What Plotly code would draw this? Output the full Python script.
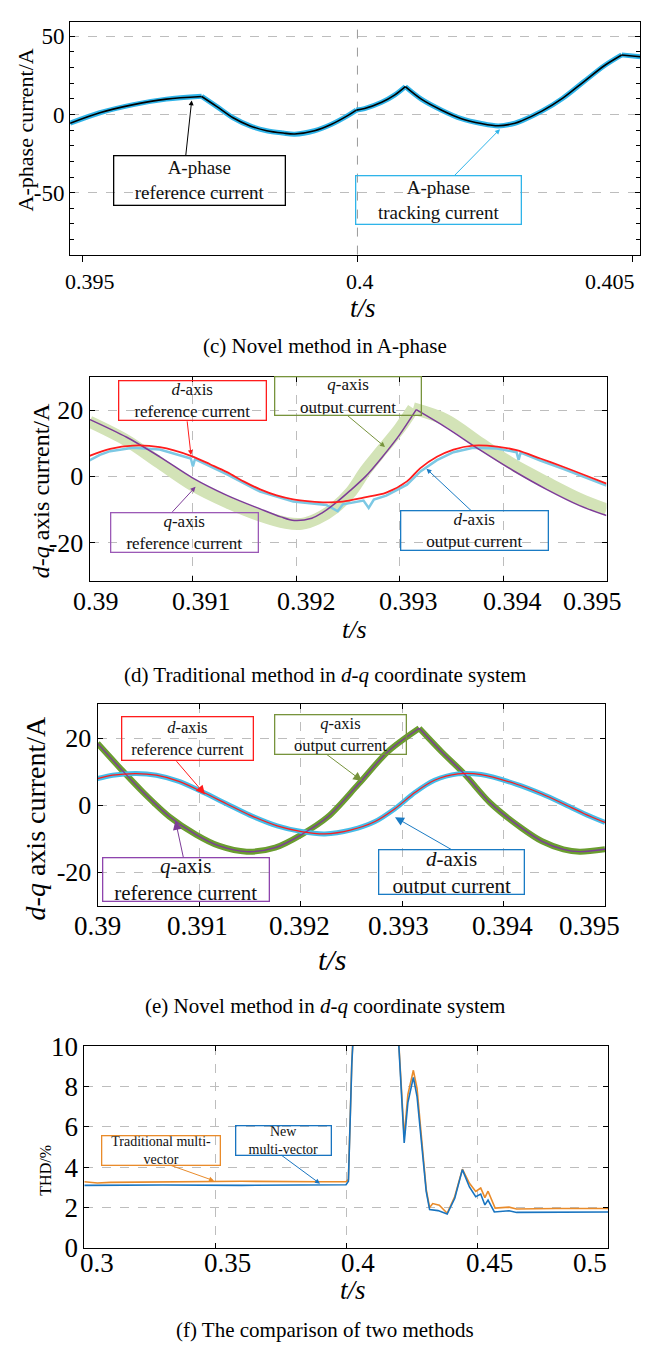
import plotly.graph_objects as go

W, H = 654, 1362
FONT = "Liberation Serif, Times New Roman, serif"

# ---------------- (c) Novel method in A-phase ----------------
c_t = [0.39478, 0.39532, 0.39593, 0.39653, 0.39717, 0.39744, 0.39774, 0.39805,
       0.39835, 0.39865, 0.39886, 0.39922, 0.39953, 0.39983, 0.39998, 0.40013,
       0.40044, 0.40068, 0.40087, 0.40116, 0.40153, 0.40189, 0.40225, 0.40256,
       0.40286, 0.40298, 0.40335, 0.40373, 0.40411, 0.40449, 0.40480, 0.40514]
c_ref = [-5.6, 1.1, 6.3, 9.8, 11.5, 5.2, -2.1, -7.3,
         -10.4, -11.9, -12.5, -10.4, -6.25, -0.6, 2.75, 3.75,
         7.75, 12.5, 17.75, 9.8, 2.75, -2.7, -5.8, -7.25,
         -5.6, -4.1, 2.1, 10.4, 20.9, 31.3, 38.0, 36.9]
c_track = [-5.6, 1.1, 6.3, 9.8, 11.6, 5.2, -2.1, -7.3,
           -10.4, -11.9, -12.6, -10.4, -6.25, -0.6, 2.8, 3.75,
           7.75, 12.5, 17.8, 9.8, 2.75, -2.7, -5.8, -7.3,
           -5.6, -4.1, 2.1, 10.4, 20.9, 31.3, 38.1, 36.9]
c_xticks = [0.395, 0.4, 0.405]
c_xtext = ["0.395", "0.4", "0.405"]
c_yticks = [-50, 0, 50]
c_ytext = ["-50", "0", "50"]

# ---------------- (d) Traditional method in d-q ----------------
d_t_dref = [0.39000, 0.39020, 0.39042, 0.39068, 0.39098, 0.39117, 0.39133, 0.39149,
            0.39165, 0.39181, 0.39197, 0.39213, 0.39229, 0.39245, 0.39265, 0.39287,
            0.39307, 0.39320, 0.39336, 0.39352, 0.39371, 0.39394, 0.39413, 0.39436,
            0.39458, 0.39478, 0.39500]
d_dref = [6.2, 8.3, 9.3, 8.8, 6.2, 3.6, 1.3, -1.5,
          -3.9, -5.7, -6.9, -7.5, -7.8, -7.6, -6.4, -4.9,
          -1.5, 2.5, 5.9, 8.1, 9.3, 9.0, 7.9, 5.4,
          2.9, 0.5, -2.2]
d_t_dout = [0.39000, 0.39010, 0.39020, 0.39042, 0.39068, 0.39098, 0.39100, 0.39102,
            0.39133, 0.39165, 0.39197, 0.39229, 0.39240, 0.39245, 0.39265, 0.39270,
            0.39275, 0.39287, 0.39307, 0.39320, 0.39336, 0.39352, 0.39371, 0.39394,
            0.39413, 0.39415, 0.39417, 0.39436, 0.39458, 0.39478, 0.39500]
d_dout = [4.8, 6.5, 7.6, 8.6, 8.1, 5.4, 3.0, 5.2,
          0.6, -4.6, -7.6, -8.6, -10.5, -8.4, -7.3, -9.5,
          -7.0, -5.8, -2.5, 1.5, 4.9, 7.3, 8.6, 8.4,
          7.3, 5.0, 7.2, 4.8, 2.3, -0.1, -2.8]
d_t_qref = [0.39000, 0.39036, 0.39068, 0.39100, 0.39133, 0.39165, 0.39185, 0.39198,
            0.39215, 0.39225, 0.39237, 0.39252, 0.39267, 0.39283, 0.39300, 0.39316,
            0.39345, 0.39378, 0.39410, 0.39442, 0.39474, 0.39500]
d_qref = [17.2, 11.8, 5.9, -0.5, -5.7, -9.8, -12.2, -13.3,
          -12.6, -11.0, -8.3, -4.3, 0.0, 5.8, 12.6, 20.1,
          14.7, 7.9, 1.7, -3.9, -8.8, -11.8]
d_t_qout = [0.39000, 0.39036, 0.39068, 0.39100, 0.39133, 0.39165, 0.39190, 0.39205,
            0.39220, 0.39237, 0.39252, 0.39267, 0.39283, 0.39300, 0.39313, 0.39345,
            0.39378, 0.39410, 0.39442, 0.39474, 0.39500]
d_qout = [16.5, 10.8, 4.0, -2.7, -7.8, -11.8, -14.0, -14.3,
          -12.8, -9.5, -5.0, 1.8, 8.0, 14.5, 20.5, 17.0,
          10.0, 3.5, -1.8, -6.8, -10.0]

dq_xticks = [0.39, 0.391, 0.392, 0.393, 0.394, 0.395]
dq_xtext = ["0.39", "0.391", "0.392", "0.393", "0.394", "0.395"]
dq_yticks = [-20, 0, 20]
dq_ytext = ["-20", "0", "20"]

# ---------------- (e) Novel method in d-q ----------------
e_t_q = [0.39000, 0.39022, 0.39045, 0.39071, 0.39097, 0.39120, 0.39147, 0.39175,
         0.39201, 0.39227, 0.39257, 0.39286, 0.39317, 0.39339, 0.39362, 0.39387,
         0.39418, 0.39438, 0.39459, 0.39475, 0.39500]
e_qref = [18.4, 11.1, 3.8, -3.5, -8.8, -12.2, -13.9, -12.7,
          -8.8, -3.5, 6.2, 15.9, 22.9, 15.9, 9.1, 0.6,
          -6.9, -10.8, -13.2, -13.9, -13.2]
e_qout = [18.4, 11.1, 3.8, -3.5, -8.8, -12.2, -13.9, -12.7,
          -8.8, -3.5, 6.2, 15.9, 22.9, 15.9, 9.1, 0.6,
          -6.9, -10.8, -13.2, -13.9, -13.2]
e_t_d = [0.39000, 0.39015, 0.39038, 0.39058, 0.39081, 0.39104, 0.39127, 0.39150,
         0.39177, 0.39201, 0.39224, 0.39250, 0.39273, 0.39293, 0.39313, 0.39332,
         0.39355, 0.39378, 0.39413, 0.39438, 0.39459, 0.39479, 0.39500]
e_dref = [7.9, 8.9, 9.4, 8.9, 7.0, 3.8, 0.4, -3.0,
          -6.2, -7.9, -8.6, -7.4, -5.0, -1.1, 3.8, 7.4,
          9.3, 9.1, 6.2, 3.3, 0.4, -2.5, -5.2]
e_dout = [7.9, 8.9, 9.4, 8.9, 7.0, 3.8, 0.4, -3.0,
          -6.2, -7.9, -8.6, -7.4, -5.0, -1.1, 3.8, 7.4,
          9.3, 9.1, 6.2, 3.3, 0.4, -2.5, -5.2]

# ---------------- (f) THD comparison ----------------
f_t_new = [0.300, 0.330, 0.360, 0.390, 0.3999, 0.4008, 0.4021, 0.4040, 0.4190, 0.4201,
           0.4221, 0.4235, 0.4256, 0.4270, 0.4287, 0.4305, 0.4318, 0.4350, 0.4385, 0.4414,
           0.4443, 0.4470, 0.4494, 0.4513, 0.4529, 0.4541, 0.4565, 0.4621, 0.4650, 0.4800,
           0.5000]
f_new = [3.10, 3.12, 3.10, 3.10, 3.13, 3.3, 9.1, 14.0, 14.0, 9.9,
         5.2, 7.2, 8.45, 7.5, 5.2, 2.8, 1.9, 1.85, 1.68, 2.46,
         3.88, 3.02, 2.54, 2.67, 2.13, 2.37, 1.78, 1.84, 1.76, 1.78,
         1.78]
f_t_trad = [0.300, 0.305, 0.310, 0.330, 0.360, 0.390, 0.3999, 0.4008, 0.4021, 0.4040,
            0.4190, 0.4201, 0.4221, 0.4235, 0.4256, 0.4270, 0.4287, 0.4305, 0.4318, 0.4330,
            0.4355, 0.4385, 0.4414, 0.4443, 0.4470, 0.4494, 0.4513, 0.4529, 0.4541, 0.4568,
            0.4621, 0.4650, 0.4800, 0.5000]
f_trad = [3.28, 3.22, 3.25, 3.27, 3.30, 3.28, 3.28, 3.4, 9.2, 14.0,
          14.0, 10.0, 5.5, 7.6, 8.8, 7.9, 5.5, 2.9, 2.0, 2.2,
          2.12, 1.72, 2.55, 3.9, 3.2, 2.8, 2.97, 2.49, 2.81, 1.97,
          2.02, 1.93, 1.95, 1.95]
f_xticks = [0.3, 0.35, 0.4, 0.45, 0.5]
f_xtext = ["0.3", "0.35", "0.4", "0.45", "0.5"]
f_yticks = [0, 2, 4, 6, 8, 10]
f_ytext = ["0", "2", "4", "6", "8", "10"]

# ---------------- colours ----------------
CYAN = "#2fb4e9"
RED = "#ff1c1c"
PURPLE = "#7d3c98"
OLIVE = "#77933c"
LGREEN = "#d3e3b7"
LBLUE = "#7cc8e4"
EBLUE = "#45bde9"
DBLUE = "#1a7bc4"
GREEN = "#6a9d2f"
ORANGE = "#e98b2a"
FBLUE = "#1874c0"
GRID = "#bdbdbd"


def dx(a, b):
    return [a / W, b / W]


def dy(top, bottom):
    return [1 - bottom / H, 1 - top / H]


def axis(dom, rng, tv, tt, size, ticks="inside", mirror="ticks", **kw):
    d = dict(domain=dom, range=rng, tickvals=tv, ticktext=tt,
             showline=True, linecolor="black", linewidth=1, mirror=mirror,
             showgrid=True, gridcolor=GRID, griddash="dash", gridwidth=1,
             zeroline=False, ticks=ticks, ticklen=5, tickcolor="black",
             tickfont=dict(family=FONT, size=size, color="black"))
    d.update(kw)
    return d


fig = go.Figure()


def add_series(xs, ys, breaks, xa, ya, color, width, shape="spline"):
    # split at sharp corners so that the spline keeps the cusps
    idx = [0] + list(breaks) + [len(xs) - 1]
    for a, b in zip(idx[:-1], idx[1:]):
        fig.add_trace(go.Scatter(x=xs[a:b + 1], y=ys[a:b + 1], mode="lines",
                                 line=dict(color=color, width=width, shape=shape, smoothing=0.9),
                                 xaxis=xa, yaxis=ya, hoverinfo="skip"))


# (c)
c_breaks = [4, 14, 18, 30]
add_series(c_t, c_track, c_breaks, "x", "y", CYAN, 5)
add_series(c_t, c_ref, c_breaks, "x", "y", "black", 1.6)
# (d)
add_series(d_t_qout, d_qout, [14], "x2", "y2", LGREEN, 12)
add_series(d_t_dout, d_dout, [], "x2", "y2", LBLUE, 2.5, shape="linear")
add_series(d_t_qref, d_qref, [15], "x2", "y2", PURPLE, 1.5)
add_series(d_t_dref, d_dref, [], "x2", "y2", RED, 1.8)
# (e)
add_series(e_t_q, e_qout, [12], "x3", "y3", GREEN, 6)
add_series(e_t_d, e_dout, [], "x3", "y3", EBLUE, 5)
add_series(e_t_q, e_qref, [12], "x3", "y3", PURPLE, 1.4)
add_series(e_t_d, e_dref, [], "x3", "y3", RED, 1.2)
# (f)
add_series(f_t_trad, f_trad, [], "x4", "y4", ORANGE, 1.6, shape="linear")
add_series(f_t_new, f_new, [], "x4", "y4", FBLUE, 1.6, shape="linear")

layout = dict(
    width=W, height=H, autosize=False, showlegend=False,
    margin=dict(l=0, r=0, t=0, b=0),
    paper_bgcolor="white", plot_bgcolor="white",
    xaxis=axis(dx(70.1, 640.4), [0.39478, 0.40514], c_xticks, c_xtext, 23,
               ticks="outside", mirror=True, anchor="y", ticklen=6, showticklabels=False,
               showgrid=False),
    yaxis=axis(dy(6.7, 245), [-89.6, 59.4], c_yticks, c_ytext, 23, anchor="x",
               minor=dict(dtick=10, ticks="inside", ticklen=4, tickcolor="black", showgrid=False)),
    xaxis2=axis(dx(89.5, 606.5), [0.39, 0.395], dq_xticks, dq_xtext, 26, anchor="y2",
                showticklabels=False),
    yaxis2=axis(dy(370, 579), [-31.6, 30], dq_yticks, dq_ytext, 26, anchor="x2"),
    xaxis3=axis(dx(97.5, 605), [0.39, 0.395], dq_xticks, dq_xtext, 27, anchor="y3",
                showticklabels=False),
    yaxis3=axis(dy(705, 910.7), [-30, 30], dq_yticks, dq_ytext, 26, anchor="x3"),
    xaxis4=axis(dx(84.3, 608.3), [0.3, 0.5], f_xticks, f_xtext, 27, anchor="y4",
                showticklabels=False),
    yaxis4=axis(dy(1054.3, 1260.7), [0, 10], f_yticks, f_ytext, 27, anchor="x4"),
    # panel (c) shows a vertical grid line only at the middle tick
    shapes=[dict(type="line", xref="x", yref="y domain", x0=c_xticks[1], x1=c_xticks[1],
                 y0=0, y1=1, line=dict(color="#9a9a9a", width=1, dash="dash"), layer="below")],
)
fig.update_layout(**layout)

ann = []


def text(x, y, s, size, angle=0, color="black"):
    ann.append(dict(x=x / W, y=1 - y / H, xref="paper", yref="paper", text=s,
                    showarrow=False, textangle=angle, xanchor="center", yanchor="middle",
                    font=dict(family=FONT, size=size, color=color)))


def xlabels(xref, vals, labels, ypix, shifts, size):
    for v, s, sh in zip(vals, labels, shifts):
        ann.append(dict(x=v, xref=xref, y=1 - ypix / H, yref="paper", text=s,
                        showarrow=False, xanchor="center", yanchor="middle", xshift=sh,
                        font=dict(family=FONT, size=size, color="black")))


def box(x0, x1, y0, y1, s, color, size):
    ann.append(dict(x=(x0 + x1) / 2 / W, y=1 - (y0 + y1) / 2 / H, xref="paper", yref="paper",
                    text=s, showarrow=False, xanchor="center", yanchor="middle",
                    width=x1 - x0 - 2, height=y1 - y0 - 2, borderpad=0, borderwidth=1.3,
                    bordercolor=color, align="center", valign="middle",
                    font=dict(family=FONT, size=size, color="#111")))


def arrow(hx, hy, tx, ty, color, size=1.0, head=2):
    ann.append(dict(x=hx / W, y=1 - hy / H, xref="paper", yref="paper", text="",
                    showarrow=True, ax=tx - hx, ay=ty - hy, arrowhead=head, arrowsize=size,
                    arrowwidth=1, arrowcolor=color, standoff=0, startstandoff=0))


# x tick labels (placed like the reference, which pulls the end labels inwards)
xlabels("x", c_xticks, c_xtext, 272, [8, 3, -23], 22)
xlabels("x2", dq_xticks, dq_xtext, 600, [6, 9, 10, 9, 9, -14], 26)
xlabels("x3", dq_xticks, dq_xtext, 932, [0, -2, -1, -4, -1, -16], 27)
xlabels("x4", f_xticks, f_xtext, 1276, [13, 12, 12, 12, -18], 27)

# (c) texts
text(25, 118, "A-phase current/A", 22, -90)
text(363, 300, "<i>t/s</i>", 27)
text(325, 338, "(c) Novel method in A-phase", 21)
box(113.5, 286.2, 144, 194, "A-phase<br>reference current", "black", 19)
box(355.4, 522.3, 165, 214.3, "A-phase<br>tracking current", CYAN, 19)
arrow(191.7, 87.3, 185.6, 144, "black")
arrow(500, 116.7, 452.6, 165, CYAN)

# (d) texts
text(40.5, 486.5, "<i>d-q</i> axis current/A", 24, -90)
text(354.6, 628, "<i>t/s</i>", 26)
text(325, 675, "(d) Traditional method in <i>d-q</i> coordinate system", 21)
box(118.9, 267, 374.3, 414.7, "<i>d</i>-axis<br>reference current", RED, 17)
box(274.5, 422.2, 370, 409.3, "<i>q</i>-axis<br>output current", OLIVE, 17)
box(110.6, 258.7, 509, 549, "<i>q</i>-axis<br>reference current", "#9b59b6", 17)
box(400.5, 548.6, 507.3, 547.3, "<i>d</i>-axis<br>output current", DBLUE, 17)
arrow(191, 450, 187, 414.7, RED)
arrow(385, 441.7, 346.3, 409.3, OLIVE)
arrow(195.5, 482.5, 171, 509, PURPLE)
arrow(426.5, 464, 472.7, 507.3, DBLUE)

# (e) texts
text(35.5, 822, "<i>d-q</i> axis current/A", 28, -90)
text(331.7, 966, "<i>t/s</i>", 30)
text(325, 1013, "(e) Novel method in <i>d-q</i> coordinate system", 21)
box(121, 253.6, 717.7, 762.3, "<i>d</i>-axis<br>reference current", RED, 16.5)
box(274.1, 406.8, 715, 755.7, "<i>q</i>-axis<br>output current", OLIVE, 16.5)
box(102.2, 269.1, 861.7, 906, "<i>q</i>-axis<br>reference current", "#8e44ad", 21)
box(377.6, 524.4, 853.3, 899, "<i>d</i>-axis<br>output current", DBLUE, 21)
arrow(205, 797, 175.2, 762.3, RED, 1.8)
arrow(362.2, 783.3, 325.4, 755.7, OLIVE, 1.8)
arrow(175.5, 824, 183.6, 861.7, PURPLE, 1.8)
arrow(395, 820.3, 452.6, 853.3, DBLUE, 1.8)

# (f) texts
text(46, 1181.7, "THD/%", 16, -90)
text(352.5, 1304, "<i>t/s</i>", 27)
text(325, 1345, "(f) The comparison of two methods", 21)
box(101.4, 221.1, 1145.7, 1176, "Traditional multi-<br>vector", ORANGE, 14)
box(235.7, 331.7, 1135, 1165.7, "New<br>multi-vector", FBLUE, 14)
arrow(214, 1192, 169, 1176, ORANGE)
arrow(320, 1195, 280.3, 1165.7, FBLUE)

fig.update_layout(annotations=ann)
fig.write_html("out.html", config={"displayModeBar": False},
               post_script="document.body.style.margin='0px';")
